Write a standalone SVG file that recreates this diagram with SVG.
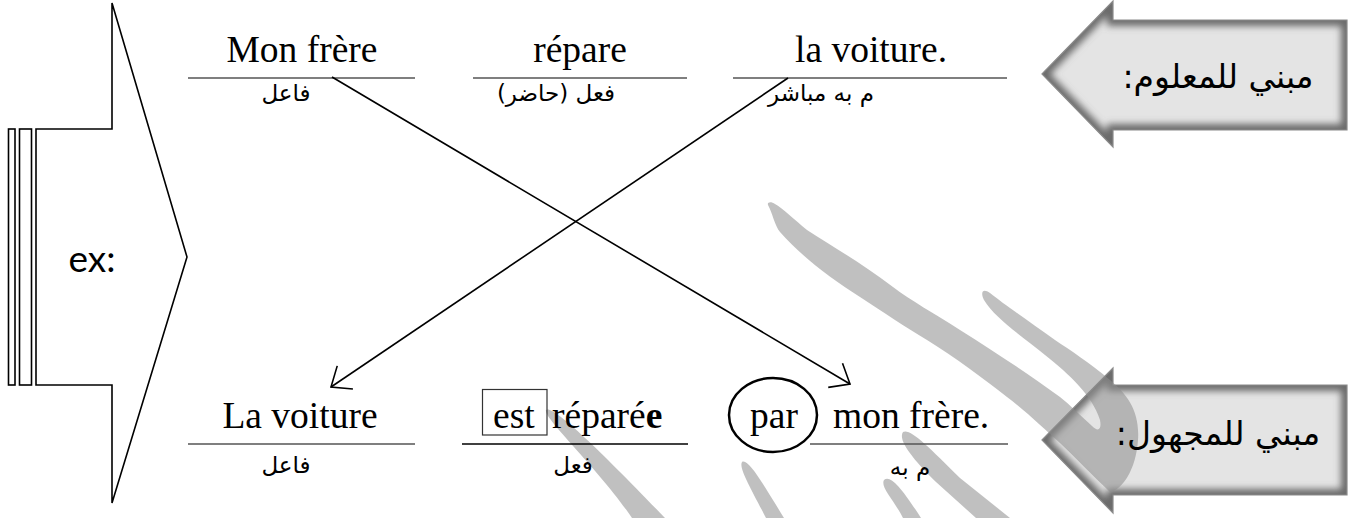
<svg xmlns="http://www.w3.org/2000/svg" width="1359" height="518" viewBox="0 0 1359 518">
<style>
.fr{font-family:"Liberation Serif","Times New Roman",serif;font-size:37.5px;fill:#000}
.ar{font-family:"DejaVu Sans",sans-serif;font-size:23px;fill:#000;text-anchor:middle}
.lab{font-family:"DejaVu Sans",sans-serif;font-size:33px;fill:#000;text-anchor:middle}
.ul{stroke:#555;stroke-width:1.5}
.conn{stroke:#000;stroke-width:1.6;fill:none}
.wm{fill:#8c8c8c;fill-opacity:0.55}
.shape{fill:#fff;stroke:#000;stroke-width:1.6}
</style>
<defs>
<marker id="vhead" markerUnits="userSpaceOnUse" markerWidth="40" markerHeight="40" refX="0" refY="0" viewBox="-20 -20 40 40" orient="auto" overflow="visible">
<path d="M-17,-14 L0,0 L-17,14" fill="none" stroke="#000" stroke-width="1.6"/>
</marker>
<filter id="bl" x="-10%" y="-10%" width="120%" height="120%"><feGaussianBlur stdDeviation="3.5"/></filter>
<clipPath id="cTop"><polygon points="1042,74 1113,1 1113,20 1347,20 1347,130 1113,130 1113,147"/></clipPath>
<clipPath id="cBot"><polygon points="1042,440 1113,368 1113,385 1347,385 1347,495 1113,495 1113,513"/></clipPath>
</defs>
<rect width="1359" height="518" fill="#fff"/>

<g id="ex-arrow">
<rect class="shape" x="8.5" y="129" width="6.5" height="256"/>
<rect class="shape" x="19.5" y="129" width="12" height="256"/>
<polygon class="shape" points="36,129 112,129 112,3 187,257 112,503 112,385 36,385"/>
<text x="92" y="272" font-family="Lato,'Open Sans',sans-serif" font-size="37" text-anchor="middle">ex:</text>
</g>

<g id="active-label">
<polygon points="1042,74 1113,1 1113,20 1347,20 1347,130 1113,130 1113,147" fill="#e4e4e4"/>
<polygon clip-path="url(#cTop)" points="1042,74 1113,1 1113,20 1347,20 1347,130 1113,130 1113,147" fill="none" stroke="#6a6a6a" stroke-width="12" filter="url(#bl)"/>
<polygon points="1042,74 1113,1 1113,20 1347,20 1347,130 1113,130 1113,147" fill="none" stroke="#8a8a8a" stroke-width="1.2"/>
</g>

<g id="passive-label">
<polygon points="1042,440 1113,368 1113,385 1347,385 1347,495 1113,495 1113,513" fill="#e4e4e4"/>
<polygon clip-path="url(#cBot)" points="1042,440 1113,368 1113,385 1347,385 1347,495 1113,495 1113,513" fill="none" stroke="#6a6a6a" stroke-width="12" filter="url(#bl)"/>
<polygon points="1042,440 1113,368 1113,385 1347,385 1347,495 1113,495 1113,513" fill="none" stroke="#8a8a8a" stroke-width="1.2"/>
</g>

<g id="watermark">
<path class="wm" d="M768,205 C772,212 775,226 780,232 C800,255 830,278 860,297 C885,313 905,327 927,340 C955,357 985,380 1007,397 C1028,413 1045,430 1060,443 C1075,457 1092,475 1110,492 C1122,490 1136,470 1138,440 C1140,412 1128,395 1110,380 C1090,363 1070,350 1055,340 C1030,322 1005,305 990,293 C983,288 980,292 984,300 C995,318 1020,335 1045,355 C1070,375 1092,395 1100,420 C1102,430 1098,432 1092,426 C1080,415 1070,405 1060,397 C1030,375 995,352 960,330 C935,314 910,300 893,287 C860,262 830,245 807,230 C795,220 782,208 775,204 C771,201 767,202 768,205 Z"/>
<path class="wm" d="M546,410 C552,404 600,450 665,518 L632,518 C600,470 543,418 546,410 Z"/>
<path class="wm" d="M742,462 C748,458 762,482 784,518 L766,518 C754,494 738,468 742,462 Z"/>
<path class="wm" d="M884,480 C890,474 902,488 921,518 L903,518 C894,500 880,487 884,480 Z"/>
<path class="wm" d="M903,432 C910,428 928,446 960,478 L1010,518 L976,518 L936,482 C916,462 897,441 903,432 Z"/>
</g>

<g id="label-texts">
<text class="lab" x="1218" y="88" direction="rtl">مبني للمعلوم:</text>
<text class="lab" x="1218" y="445" direction="rtl">مبني للمجهول:</text>
</g>

<g id="active-sentence">
<g id="w-mon-frere"><text class="fr" x="302" y="62" text-anchor="middle">Mon frère</text><line class="ul" x1="188" y1="78" x2="415" y2="78"/><text class="ar" x="286" y="101" direction="rtl">فاعل</text></g>
<g id="w-repare"><text class="fr" x="580" y="62" text-anchor="middle">répare</text><line class="ul" x1="473" y1="78" x2="687" y2="78"/><text class="ar" x="556" y="101" direction="rtl">فعل (حاضر)</text></g>
<g id="w-la-voiture"><text class="fr" x="871" y="62" text-anchor="middle">la voiture.</text><line class="ul" x1="733" y1="78" x2="1007" y2="78"/><text class="ar" x="821" y="101" direction="rtl">م به مباشر</text></g>
</g>

<g id="passive-sentence">
<g id="p-la-voiture"><text class="fr" x="300" y="428" text-anchor="middle">La voiture</text><line class="ul" x1="188" y1="444" x2="415" y2="444"/><text class="ar" x="286" y="473" direction="rtl">فاعل</text></g>
<g id="p-est-reparee"><rect x="482.5" y="389.5" width="64.5" height="45.5" fill="none" stroke="#333" stroke-width="1.2"/><text class="fr" x="493" y="428">est</text><text class="fr" x="552" y="428">réparé<tspan font-weight="bold">e</tspan></text><line x1="462" y1="444" x2="688" y2="444" stroke="#000" stroke-width="1.5"/><text class="ar" x="573" y="473" direction="rtl">فعل</text></g>
<g id="p-par-mon-frere"><ellipse cx="773" cy="415" rx="44" ry="37" fill="none" stroke="#000" stroke-width="2.5"/><text class="fr" x="750" y="428">par</text><text class="fr" x="833" y="428">mon frère.</text><line class="ul" x1="810" y1="444" x2="1008" y2="444"/><text class="ar" x="910" y="475" direction="rtl">م به</text></g>
</g>

<g id="connectors">
<line class="conn" x1="332" y1="77" x2="850" y2="384" marker-end="url(#vhead)"/>
<line class="conn" x1="788" y1="78" x2="331" y2="387" marker-end="url(#vhead)"/>
</g>
</svg>
